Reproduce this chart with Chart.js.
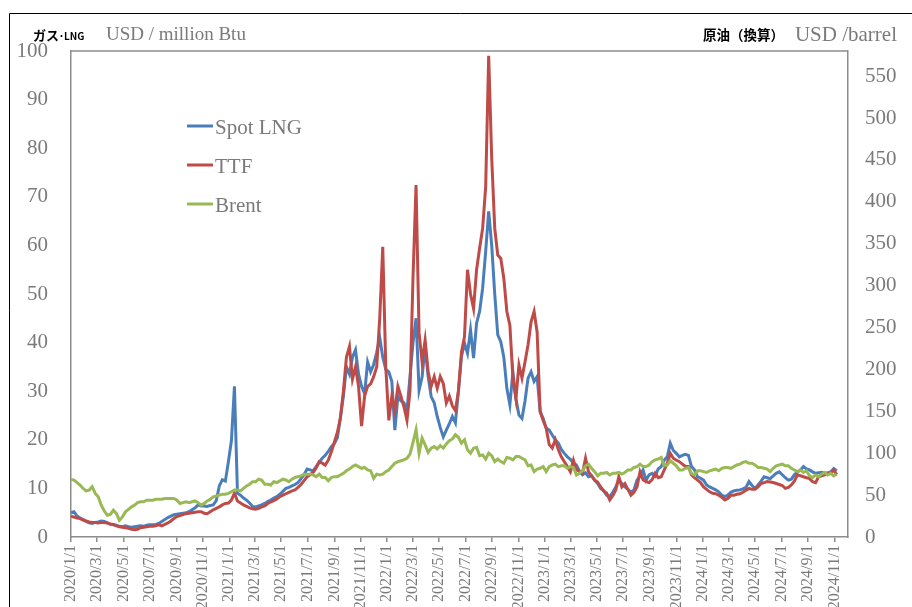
<!DOCTYPE html>
<html lang="ja">
<head>
<meta charset="utf-8">
<title>Spot LNG / TTF / Brent</title>
<script src="https://cdn.jsdelivr.net/npm/chart.js@4.4.1/dist/chart.umd.min.js"></script>
<style>
  html, body { margin: 0; padding: 0; background: #fff; }
  canvas { display: block; }
</style>
</head>
<body>
<canvas id="grafico" width="912" height="607"></canvas>
<script>
// weekly readings, first one on 2020/1/1
let startDate = '2020/1/1';
let stepDays = 7;

// USD / million Btu
let spotLng = [
  5.0, 5.2, 4.3, 3.9, 3.6, 3.2, 2.9, 2.8, 3.0, 3.1,
  3.3, 3.2, 2.9, 2.6, 2.5, 2.4, 2.2, 2.1, 2.3, 2.1,
  2.0, 2.1, 2.2, 2.3, 2.2, 2.4, 2.5, 2.5, 2.6, 2.8,
  3.2, 3.6, 4.0, 4.3, 4.6, 4.7, 4.8, 4.9, 5.0, 5.2,
  5.6, 6.0, 6.6, 6.4, 6.4, 6.3, 6.5, 6.6, 7.5, 10.5,
  11.8, 11.5, 15.5, 19.8, 31.0, 9.0, 8.6, 8.0, 7.6, 7.0,
  6.3, 6.2, 6.4, 6.6, 6.9, 7.3, 7.6, 8.0, 8.3, 8.8,
  9.4, 10.0, 10.2, 10.5, 10.8, 11.2, 12.0, 12.8, 14.0, 13.8,
  13.6, 14.5, 15.4, 16.2, 16.8, 17.6, 18.6, 19.2, 20.4, 24.5,
  29.0, 35.0, 33.5, 37.0, 38.5, 33.5, 31.0, 29.5, 36.0, 34.0,
  35.5, 38.0, 41.0, 37.0, 34.5, 34.0, 32.0, 22.0, 29.0, 28.0,
  27.6, 26.0, 33.0, 40.0, 45.0, 30.2, 32.9, 39.2, 33.0, 28.9,
  27.6, 24.8, 22.5, 20.6, 22.0, 23.3, 24.8, 23.5, 30.0, 37.1,
  39.9, 37.8, 42.6, 36.8, 44.0, 46.4, 51.2, 58.7, 67.0, 60.0,
  50.0, 41.6, 40.2, 37.0, 30.6, 27.2, 34.0, 28.5, 25.1, 24.4,
  28.0, 32.7, 34.0, 32.0, 33.0, 25.8, 24.4, 22.4, 22.0, 21.0,
  20.0, 19.3, 18.0, 17.2, 16.5, 16.0, 15.2, 14.8, 13.5, 12.8,
  13.2, 12.4, 12.6, 11.7, 11.0, 10.0, 9.5, 8.6, 8.3, 9.2,
  10.3, 11.7, 11.0, 10.3, 9.8, 9.2, 9.7, 11.7, 12.5, 13.8,
  11.7, 12.8, 13.1, 12.5, 14.0, 14.5, 15.8, 16.5, 19.3, 17.8,
  17.2, 16.5, 16.8, 17.0, 16.8, 14.5, 13.8, 12.4, 12.1, 11.7,
  10.7, 10.3, 10.0, 9.7, 9.3, 8.6, 8.3, 8.6, 9.2, 9.5,
  9.6, 9.7, 9.9, 10.2, 11.4, 10.6, 10.0, 10.7, 11.5, 12.4,
  12.2, 12.0, 12.6, 13.1, 13.4, 12.8, 12.2, 11.7, 11.9, 12.8,
  13.4, 13.8, 14.5, 14.0, 13.8, 13.4, 13.1, 13.2, 13.3, 13.1,
  13.2, 13.4, 14.1, 13.6
];

// USD / million Btu
let ttf = [
  4.3, 4.1, 3.9, 3.8, 3.5, 3.3, 3.1, 3.0, 3.0, 2.9,
  3.0, 3.0, 2.9, 2.7, 2.6, 2.3, 2.1, 2.0, 1.9, 1.8,
  1.6, 1.5, 1.6, 1.9, 2.0, 2.1, 2.2, 2.2, 2.3, 2.5,
  2.3, 2.6, 2.9, 3.3, 3.8, 4.2, 4.4, 4.6, 4.8, 4.9,
  5.0, 5.1, 5.2, 5.2, 4.9, 4.8, 5.2, 5.6, 5.9, 6.2,
  6.6, 6.9, 7.0, 7.6, 9.0, 7.4, 7.0, 6.6, 6.3, 6.0,
  5.8, 5.7, 5.9, 6.2, 6.4, 6.9, 7.2, 7.5, 7.8, 8.3,
  8.6, 8.9, 9.2, 9.5, 9.7, 10.2, 10.8, 11.6, 12.4, 12.8,
  13.3, 14.2, 15.5, 15.2, 14.8, 15.8, 17.5, 19.5, 21.5, 24.5,
  30.0, 37.0, 39.2, 32.5, 35.0, 31.0, 22.8, 29.0, 31.0, 31.5,
  33.0, 35.0, 45.0, 59.7, 35.0, 24.0, 29.0, 26.0, 31.0, 29.0,
  26.8, 24.0, 30.0, 53.5, 72.4, 42.0, 36.0, 40.5, 34.0, 31.0,
  33.0, 30.6, 33.0, 31.6, 27.6, 29.0, 27.0, 26.0, 30.0, 38.0,
  41.2, 55.0, 50.0, 47.0, 55.0, 59.4, 63.5, 72.0, 99.0, 78.0,
  63.5, 58.0, 57.3, 53.2, 46.4, 43.6, 32.7, 28.5, 35.4, 32.7,
  36.0, 39.5, 44.3, 46.4, 42.2, 25.8, 24.0, 22.4, 19.0, 18.3,
  20.0, 18.0, 16.5, 15.5, 14.5, 13.4, 15.8, 13.8, 13.5, 13.1,
  16.2, 13.4, 12.6, 11.7, 11.3, 10.3, 9.5, 9.0, 7.6, 8.5,
  9.7, 12.4, 10.3, 11.0, 9.8, 8.6, 9.2, 10.3, 13.4, 11.8,
  11.4, 11.2, 11.8, 13.1, 12.2, 12.4, 13.8, 15.2, 17.2, 16.2,
  15.8, 15.5, 15.0, 14.5, 14.5, 12.8, 12.2, 11.7, 11.2, 10.3,
  9.8, 9.3, 9.0, 8.9, 8.6, 8.2, 7.6, 7.9, 8.6, 8.6,
  8.8, 8.9, 9.2, 9.6, 10.0, 9.8, 9.8, 10.3, 11.0, 11.2,
  11.4, 11.3, 11.2, 11.0, 10.8, 10.6, 10.0, 10.2, 10.7, 11.5,
  12.8, 12.6, 12.4, 12.2, 12.0, 11.4, 11.2, 12.4, 12.6, 12.8,
  13.0, 13.2, 13.8, 12.8
];

// USD / barrel (right axis)
let brent = [
  68.8, 68, 65, 62, 58, 55, 56, 60, 52, 48,
  38, 31, 26, 27, 32, 28, 20, 24, 30, 33,
  36, 38, 41, 42, 42, 44, 44, 44, 45, 45,
  45, 46, 46, 46, 46, 44, 40, 41, 42, 41,
  42, 43, 41, 38, 40, 43, 45, 48, 49, 50,
  51, 51, 52, 54, 56, 56, 55, 58, 61, 63,
  66, 66, 69, 68, 63, 63, 62, 66, 65, 67,
  69, 68, 66, 69, 71, 72, 73, 75, 75, 75,
  74, 72, 75, 71, 71, 67, 71, 72, 72, 74,
  76, 79, 81, 84, 86, 84, 82, 83, 80, 79,
  70, 75, 74, 75, 78, 80, 84, 88, 90, 91,
  92, 94, 99, 113, 128, 100, 118, 110, 101, 106,
  108, 105, 109, 106, 111, 115, 117, 122, 119, 112,
  116, 104, 100, 106, 107, 97, 98, 93, 100, 97,
  90, 93, 90, 88, 95, 94, 92, 96, 96, 94,
  92, 85, 86, 78, 81, 82, 84, 78, 84, 86,
  87, 84, 85, 85, 82, 84, 83, 74, 76, 79,
  85, 87, 82, 78, 73, 76, 76, 77, 74, 76,
  76, 77, 75, 77, 80, 80, 83, 84, 87, 84,
  84, 86, 90, 92, 93, 95, 85, 86, 91, 88,
  85, 80, 80, 82, 83, 76, 74, 79, 79, 78,
  77, 79, 80, 81, 79, 82, 83, 83, 82, 84,
  86, 87, 89, 90, 88, 88, 86, 83, 83, 82,
  81, 78, 82, 85, 86, 87, 85, 85, 82, 80,
  78, 80, 77, 79, 73, 71, 74, 72, 75, 77,
  74, 76, 73, 75
];

let xTickLabels = [
  '2020/1/1', '2020/3/1', '2020/5/1', '2020/7/1', '2020/9/1', '2020/11/1',
  '2021/1/1', '2021/3/1', '2021/5/1', '2021/7/1', '2021/9/1', '2021/11/1',
  '2022/1/1', '2022/3/1', '2022/5/1', '2022/7/1', '2022/9/1', '2022/11/1',
  '2023/1/1', '2023/3/1', '2023/5/1', '2023/7/1', '2023/9/1', '2023/11/1',
  '2024/1/1', '2024/3/1', '2024/5/1', '2024/7/1', '2024/9/1', '2024/11/1'
];
let gasTicks = [0, 10, 20, 30, 40, 50, 60, 70, 80, 90, 100];
let oilTicks = [0, 50, 100, 150, 200, 250, 300, 350, 400, 450, 500, 550];

let cinza = '#7a7a7a';
let serif = '"Liberation Serif", "DejaVu Serif", serif';

let dayOf = s => {
  let [a, m, d] = s.split('/').map(Number);
  let [a0, m0, d0] = startDate.split('/').map(Number);
  return (Date.UTC(a, m - 1, d) - Date.UTC(a0, m0 - 1, d0)) / 86400000;
};
let pontos = arr => arr.map((v, i) => ({ x: i * stepDays, y: v }));

let series = [
  { label: 'Spot LNG', data: spotLng, color: '#4a7ebb', axis: 'y' },
  { label: 'TTF', data: ttf, color: '#be4b48', axis: 'y' },
  { label: 'Brent', data: brent, color: '#98b954', axis: 'y2' }
];

let extras = {
  id: 'extras',
  afterDraw(chart) {
    let c = chart.ctx;
    let a = chart.chartArea;
    c.save();

    // outer frame
    c.strokeStyle = '#000';
    c.lineWidth = 1;
    c.beginPath();
    c.moveTo(9.5, 607);
    c.lineTo(9.5, 13.5);
    c.lineTo(912, 13.5);
    c.stroke();

    // top edge of plot box
    c.strokeStyle = '#8c8c8c';
    c.lineWidth = 1.5;
    c.beginPath();
    c.moveTo(a.left, a.top);
    c.lineTo(a.right, a.top);
    c.stroke();

    // axis titles
    c.textBaseline = 'alphabetic';
    c.textAlign = 'left';
    c.fillStyle = '#000';
    c.font = 'bold 13px "Noto Sans CJK JP"';
    c.fillText('ガス', 33, 40);
    let w = c.measureText('ガス').width;
    c.font = 'bold 10px "Noto Sans CJK JP"';
    c.fillText('･LNG', 33 + w, 40);
    c.fillStyle = cinza;
    c.font = '19px ' + serif;
    c.fillText('USD / million Btu', 106, 40);

    c.fillStyle = '#000';
    c.font = 'bold 13.5px "Noto Sans CJK JP"';
    c.fillText('原油（換算）', 703, 40);
    c.fillStyle = cinza;
    c.font = '21px ' + serif;
    c.textAlign = 'right';
    c.fillText('USD /barrel', 897, 41);

    // legend inside the plot
    c.textAlign = 'left';
    c.font = '21px ' + serif;
    series.forEach((s, i) => {
      let y = 126 + i * 39;
      c.strokeStyle = s.color;
      c.lineWidth = 3;
      c.beginPath();
      c.moveTo(187, y);
      c.lineTo(213, y);
      c.stroke();
      c.fillStyle = cinza;
      c.fillText(s.label, 215, y + 7.5);
    });
    c.restore();
  }
};

let ctx = document.getElementById('grafico').getContext('2d');

let myChart = new Chart(ctx, {
  type: 'line',
  data: {
    datasets: series.map((s, i) => ({
      label: s.label,
      data: pontos(s.data),
      yAxisID: s.axis,
      borderColor: s.color,
      backgroundColor: s.color,
      borderWidth: 3,
      pointRadius: 0,
      tension: 0,
      fill: false,
      order: 2 - i
    }))
  },
  options: {
    responsive: false,
    animation: false,
    layout: { padding: { top: 51, left: 0, right: 0, bottom: 0 } },
    plugins: { legend: { display: false }, tooltip: { enabled: false } },
    scales: {
      x: {
        type: 'linear',
        min: 0,
        max: 1797,
        afterBuildTicks: s => { s.ticks = xTickLabels.map(t => ({ value: dayOf(t) })); },
        afterFit: s => { s.height = 70; },
        ticks: {
          autoSkip: false,
          minRotation: 90,
          maxRotation: 90,
          padding: 3,
          color: cinza,
          font: { family: serif, size: 16 },
          callback: (v, i) => xTickLabels[i]
        },
        grid: { display: true, drawOnChartArea: false, drawTicks: true, tickLength: 5, color: '#8c8c8c', lineWidth: 1.5 },
        border: { display: true, color: '#8c8c8c', width: 1.5 }
      },
      y: {
        position: 'left',
        min: 0,
        max: 100,
        afterBuildTicks: s => { s.ticks = gasTicks.map(v => ({ value: v })); },
        afterFit: s => { s.width = 71; },
        ticks: { padding: 23, color: cinza, font: { family: serif, size: 21 } },
        grid: { display: false, drawTicks: false },
        border: { display: true, color: '#8c8c8c', width: 1.5 }
      },
      y2: {
        position: 'right',
        min: 0,
        max: 580,
        afterBuildTicks: s => { s.ticks = oilTicks.map(v => ({ value: v })); },
        afterFit: s => { s.width = 64; },
        ticks: { padding: 17, color: cinza, font: { family: serif, size: 21 } },
        grid: { display: false, drawTicks: false },
        border: { display: true, color: '#8c8c8c', width: 1.5 }
      }
    }
  },
  plugins: [extras]
});
</script>
</body>
</html>
